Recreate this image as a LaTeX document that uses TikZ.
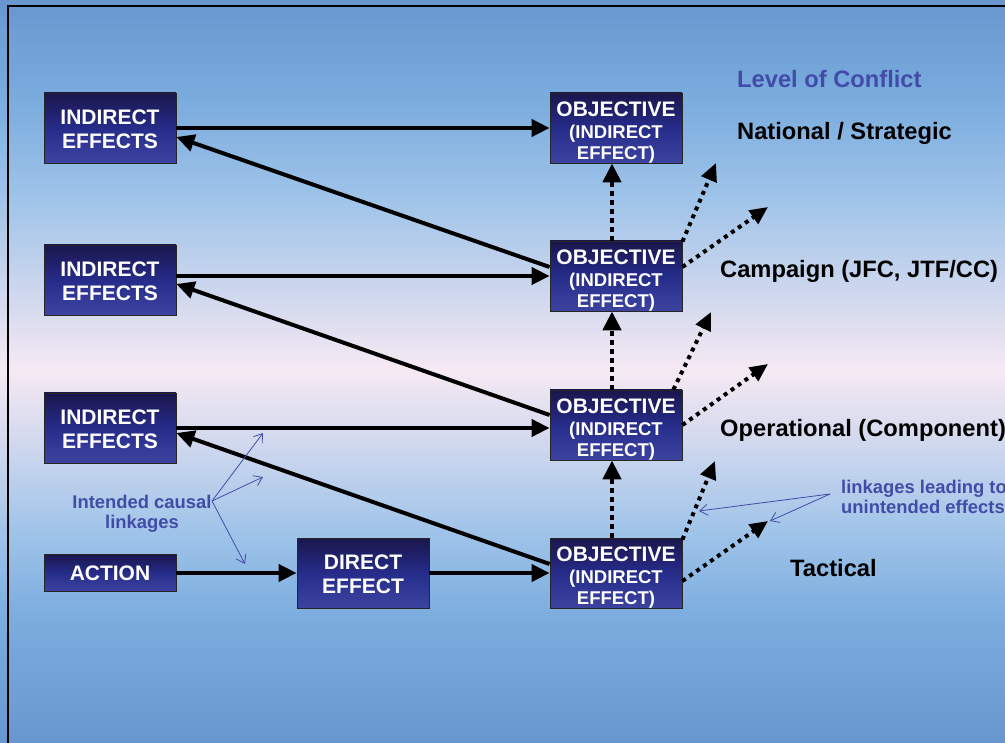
\documentclass[tikz,border=0pt]{standalone}
\usepackage{fontspec}
\setmainfont{Liberation Sans}
\usetikzlibrary{arrows.meta}
\definecolor{bgA}{RGB}{104,151,207}
\definecolor{bgB}{RGB}{122,172,222}
\definecolor{bgC}{RGB}{160,196,233}
\definecolor{bgD}{RGB}{210,217,238}
\definecolor{bgE}{RGB}{246,233,243}
\definecolor{annot}{RGB}{66,76,168}
\definecolor{boxtop}{RGB}{26,22,76}
\definecolor{boxmid}{RGB}{38,44,138}
\definecolor{boxbot}{RGB}{60,68,160}
\pgfdeclareverticalshading{bgshade}{100bp}{color(0bp)=(bgA); color(25bp)=(bgA); color(33.3bp)=(bgB); color(39.3bp)=(bgC); color(45.4bp)=(bgD); color(50.1bp)=(bgE); color(54.8bp)=(bgD); color(61.5bp)=(bgC); color(68.3bp)=(bgB); color(75bp)=(bgA); color(100bp)=(bgA)}
\tikzset{
  box/.style={draw=black!85, line width=0.8pt, top color=boxtop, bottom color=boxbot, middle color=boxmid,
    text=white, font=\bfseries\fontsize{21}{24}\selectfont, align=center,
    minimum width=132pt, minimum height=70pt, inner sep=0pt},
  objbox/.style={box, font=\bfseries\fontsize{18.5}{20.5}\selectfont},
  bigarrow/.style={line width=4pt, -{Triangle[length=18pt,width=17pt]}},
  vdots/.style={line width=4.5pt, dash pattern=on 4.5pt off 4.5pt, -{Triangle[length=19pt,width=18pt]}},
  ddots/.style={line width=4pt, dash pattern=on 4pt off 4.5pt, -{Triangle[length=18pt,width=16pt]}},
  thinarrow/.style={draw=annot, line width=0.8pt, -{Straight Barb[length=8pt,width=11pt]}},
  annottext/.style={text=annot, font=\bfseries\fontsize{18.4}{20}\selectfont, inner sep=0pt},
  level/.style={font=\bfseries\fontsize{23.7}{26}\selectfont, inner sep=0pt, anchor=base west}
}
\newcommand{\objtxt}{\rule{0pt}{23.5pt}{\fontsize{21}{22}\selectfont OBJECTIVE}\\[1.5pt](INDIRECT\\EFFECT)}
\begin{document}
\begin{tikzpicture}[x=1pt,y=-1pt]
\useasboundingbox (0,0) rectangle (1005,743);
\clip (0,0) rectangle (1005,743);
\shade[shading=bgshade] (0,0) rectangle (1005,743);
\draw[line width=2pt] (8,760) -- (8,6) -- (1020,6);

% boxes
\node[box] (ie1) at (110,128) {\rule{0pt}{17pt}INDIRECT\\EFFECTS};
\node[box] (ie2) at (110,280) {\rule{0pt}{17pt}INDIRECT\\EFFECTS};
\node[box] (ie3) at (110,428) {\rule{0pt}{17pt}INDIRECT\\EFFECTS};
\node[box, minimum height=37pt] (action) at (110,573) {ACTION};
\node[box] (direct) at (363,573) {\rule{0pt}{17pt}DIRECT\\EFFECT};
\node[objbox] (obj1) at (616,128) {\objtxt};
\node[objbox] (obj2) at (616,276) {\objtxt};
\node[objbox] (obj3) at (616,425) {\objtxt};
\node[objbox] (obj4) at (616,573) {\objtxt};

% solid arrows
\draw[bigarrow] (ie1.east) -- (obj1.west);
\draw[bigarrow] ([yshift=9pt]obj2.west) -- ([yshift=-9pt]ie1.east);
\draw[bigarrow] (ie2.east |- obj2.west) -- (obj2.west);
\draw[bigarrow] ([yshift=10pt]obj3.west) -- ([yshift=-4pt]ie2.east);
\draw[bigarrow] (ie3.east) -- (obj3.west |- ie3.east);
\draw[bigarrow] ([yshift=9pt]obj4.west) -- ([yshift=-5pt]ie3.east);
\draw[bigarrow] (action.east) -- (direct.west);
\draw[bigarrow] (direct.east) -- (obj4.west);

% dotted vertical
\draw[vdots] ([xshift=-4pt]obj4.north) -- ([xshift=-4pt]obj3.south);
\draw[vdots] ([xshift=-4pt]obj3.north) -- ([xshift=-4pt]obj2.south);
\draw[vdots] ([xshift=-4pt]obj2.north) -- ([xshift=-4pt]obj1.south);

% dotted diagonal (unintended)
\coordinate (u2a) at (716,163);
\coordinate (u2b) at (768,207);
\coordinate (u3a) at (711,312);
\coordinate (u3b) at (768,364);
\coordinate (u4a) at (715,461);
\coordinate (u4b) at (768,521);
\draw[ddots] ([yshift=-1pt]obj2.north east) -- (u2a);
\draw[ddots] ([yshift=9pt]obj2.east) -- (u2b);
\draw[ddots] ([xshift=-9pt]obj3.north east) -- (u3a);
\draw[ddots] (obj3.east) -- (u3b);
\draw[ddots] ([yshift=-2pt]obj4.north east) -- (u4a);
\draw[ddots] ([yshift=-8pt]obj4.east) -- (u4b);

% annotations left
\node[annottext, align=center] (intended) at (142,514) {Intended causal\\linkages};
\coordinate (ic) at (212,501);
\coordinate (ic1) at (263,433);
\coordinate (ic2) at (263,477);
\coordinate (ic3) at (245,564);
\draw[thinarrow] (ic) -- (ic1);
\draw[thinarrow] (ic) -- (ic2);
\draw[thinarrow] (ic) -- (ic3);

% annotations right
\node[annottext, align=left, anchor=north west] (unint) at (841,479.5) {linkages leading to\\unintended effects};
\coordinate (uc) at (830,494);
\coordinate (uc1) at (699,511);
\coordinate (uc2) at (770,521);
\draw[thinarrow] (uc) -- (uc1);
\draw[thinarrow] (uc) -- (uc2);

% level labels
\node[level, text=annot] (loc) at (737,88) {Level of Conflict};
\node[level] (nat) at (737,140) {National / Strategic};
\node[level] (camp) at (720,278) {Campaign (JFC, JTF/CC)};
\node[level] (oper) at (720,437) {Operational (Component)};
\node[level] (tact) at (790,576) {Tactical};
\end{tikzpicture}
\end{document}
